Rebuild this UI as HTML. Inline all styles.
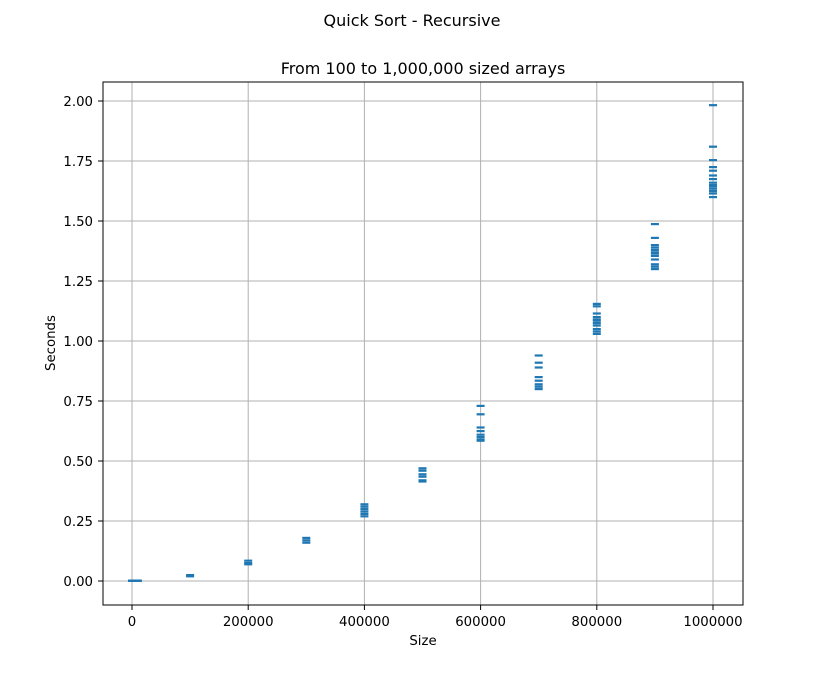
<!DOCTYPE html>
<html><head><meta charset="utf-8"><style>
body{margin:0;background:#fff;}
svg text{font-family:"DejaVu Sans","Liberation Sans",sans-serif;fill:#000;}
</style></head><body>
<svg id="chart" width="825" height="680" xmlns="http://www.w3.org/2000/svg">
<rect width="825" height="680" fill="#fff"/>
<text x="412" y="26" font-size="16" text-anchor="middle">Quick Sort - Recursive</text>
<text x="423" y="74" font-size="16" text-anchor="middle">From 100 to 1,000,000 sized arrays</text>
<g id="grid"></g>
<g id="marks"></g>
<rect x="103" y="82" width="640" height="523" fill="none" stroke="#000" stroke-width="1"/>
<g id="ticks"></g>
<text x="423" y="645" font-size="13.3" text-anchor="middle">Size</text>
<text x="0" y="0" font-size="13.3" text-anchor="middle" transform="translate(55,343) rotate(-90)">Seconds</text>
</svg>
<script>
const sizes=[100,10000,100000,200000,300000,400000,500000,600000,700000,800000,900000,1000000];
const times=[
[0.002,0.001],
[0.002,0.001],
[0.025,0.02],
[0.085,0.075,0.07],
[0.18,0.17,0.16],
[0.32,0.31,0.30,0.29,0.28,0.27],
[0.47,0.46,0.445,0.435,0.42,0.415],
[0.73,0.695,0.64,0.625,0.61,0.60,0.59,0.585],
[0.94,0.91,0.89,0.85,0.835,0.82,0.81,0.80],
[1.155,1.145,1.115,1.10,1.09,1.085,1.075,1.065,1.05,1.04,1.03],
[1.4875,1.43,1.40,1.39,1.38,1.37,1.365,1.355,1.34,1.32,1.31,1.30],
[1.983,1.81,1.754,1.725,1.71,1.69,1.675,1.66,1.65,1.645,1.635,1.625,1.615,1.60]
];
const xTicks=[0,200000,400000,600000,800000,1000000];
const xTickLabels=["0","200000","400000","600000","800000","1000000"];
const yTicks=[0,0.25,0.5,0.75,1.0,1.25,1.5,1.75,2.0];
const yTickLabels=["0.00","0.25","0.50","0.75","1.00","1.25","1.50","1.75","2.00"];
const NS="http://www.w3.org/2000/svg";
const X=v=>132+v*581/1000000;
const Y=v=>581-v*240;
function mk(t,a,p){const e=document.createElementNS(NS,t);for(const k in a)e.setAttribute(k,a[k]);p.appendChild(e);return e;}
const grid=document.getElementById('grid'),ticks=document.getElementById('ticks'),marks=document.getElementById('marks');
xTicks.forEach((v,i)=>{
 const gl=mk('line',{x1:X(v),x2:X(v),y1:82,y2:605,stroke:'#b0b0b0','stroke-width':1},grid);
 
 
 const tk=mk('line',{x1:X(v),x2:X(v),y1:605,y2:610,stroke:'#000'},ticks);
 
 
 const t=mk('text',{x:X(v),y:626,'font-size':13.3,'text-anchor':'middle'},ticks);
 t.textContent=xTickLabels[i];
 
 
});
yTicks.forEach((v,i)=>{
 const gl=mk('line',{x1:103,x2:743,y1:Y(v),y2:Y(v),stroke:'#b0b0b0','stroke-width':1},grid);
 
 
 const tk=mk('line',{x1:98,x2:103,y1:Y(v),y2:Y(v),stroke:'#000'},ticks);
 
 
 const t=mk('text',{x:93,y:Y(v)+5,'font-size':13.3,'text-anchor':'end'},ticks);
 t.textContent=yTickLabels[i];
 
 
});
sizes.forEach((s,i)=>{
 times[i].forEach(t=>{
  const r=mk('rect',{x:X(s)-4,y:Y(t)-1,width:8,height:2.2,fill:'#1f77b4'},marks);
  
  
 });
});
</script>
</body></html>
